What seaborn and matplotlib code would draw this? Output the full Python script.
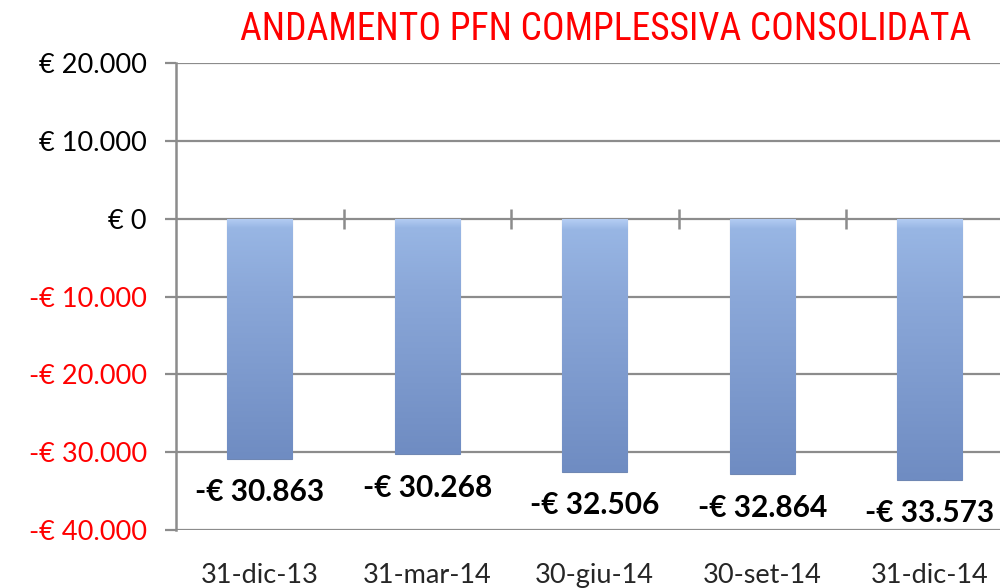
import matplotlib
matplotlib.use('Agg')
import matplotlib.pyplot as plt
import numpy as np
import pandas as pd
import seaborn as sns
from matplotlib import font_manager
from matplotlib.colors import LinearSegmentedColormap


TITLE = 'ANDAMENTO PFN COMPLESSIVA CONSOLIDATA'

dates = ['31-dic-13', '31-mar-14', '30-giu-14', '30-set-14', '31-dic-14']
pfn = [-30863, -30268, -32506, -32864, -33573]
y_ticks = [20000, 10000, 0, -10000, -20000, -30000, -40000]


def euro(v):
    s = f'{abs(v):,}'.replace(',', '.')
    return f'-€ {s}' if v < 0 else f'€ {s}'


def pick_font(candidates):
    names = {f.name for f in font_manager.fontManager.ttflist}
    for c in candidates:
        if c in names:
            return c
    return 'DejaVu Sans'


df = pd.DataFrame({'data': dates, 'pfn': pfn})

sns.set_style('white')
plt.rcParams['font.family'] = ['Lato', 'DejaVu Sans']

fig = plt.figure(figsize=(10, 5.88), dpi=100)
ax = fig.add_axes([0.176, 0.0986, 0.8375, 0.794])

sns.barplot(data=df, x='data', y='pfn', color='#8aa6d6', width=0.39,
            saturation=1, ax=ax, zorder=3)

# gradient fill on each bar
grad_cmap = LinearSegmentedColormap.from_list(
    'bar', [(0, '#b4cdf3'), (0.04, '#98b6e4'), (0.3, '#8ba8d9'),
            (0.7, '#7b98cc'), (1, '#6f8cc2')])
grad = np.linspace(0, 1, 256).reshape(-1, 1)
for p in ax.patches:
    x0, y0 = p.get_x(), p.get_y()
    w, h = p.get_width(), p.get_height()
    p.set_edgecolor('#6f87b3')
    p.set_linewidth(0.8)
    im = ax.imshow(grad, extent=[x0, x0 + w, y0 + h, y0], aspect='auto',
                   cmap=grad_cmap, zorder=3.5, origin='upper')
    im.set_clip_path(p)
ax.set_xlim(-0.5, len(dates) - 0.5)
ax.set_ylim(-40000, 20000)

# gridlines
for t in y_ticks:
    ax.axhline(t, color='#8c8c8c', lw=1.6, zorder=1)
ax.vlines(np.arange(len(dates) - 1) + 0.5, -1300, 1300,
          color='#8c8c8c', lw=1.8, zorder=2)

for s in ['top', 'right', 'bottom']:
    ax.spines[s].set_visible(False)
ax.spines['left'].set_color('#8c8c8c')
ax.spines['left'].set_linewidth(1.8)

ax.set_yticks(y_ticks)
ax.set_yticklabels([euro(v) for v in y_ticks], fontsize=19.5)
for lab, v in zip(ax.get_yticklabels(), y_ticks):
    lab.set_color('red' if v < 0 else 'black')
ax.tick_params(axis='y', length=8, width=1.6, color='#8c8c8c', pad=13,
               left=True)
ax.tick_params(axis='x', length=0, pad=24, labelsize=19.5)
ax.set_xlabel('')
ax.set_ylabel('')

for i, v in enumerate(pfn):
    ax.annotate(euro(v), (i, v), xytext=(0, -24), textcoords='offset points',
                ha='center', va='center', fontsize=21.5, fontweight='bold',
                color='black', zorder=5)

title_font = pick_font(['Liberation Sans Narrow', 'Roboto Condensed',
                        'DejaVu Sans Condensed', 'Roboto'])
title = fig.text(0.606, 0.949, TITLE, ha='center', va='center',
                 color='#ff0000', fontsize=26, family=title_font)
# scale the title to the width it has in the reference
fig.canvas.draw()
tw = title.get_window_extent().width
title.set_fontsize(26 * min(1.2, 732 / tw))

fig.savefig('out.png', dpi=100)
